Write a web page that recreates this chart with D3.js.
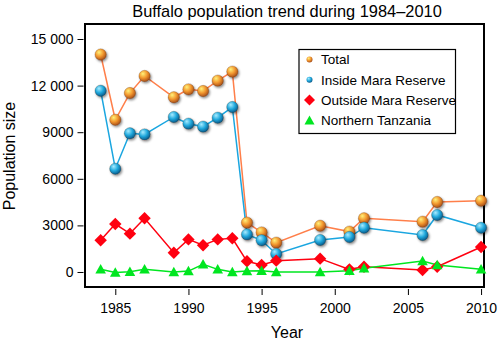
<!DOCTYPE html>
<html><head><meta charset="utf-8">
<script src="https://cdn.jsdelivr.net/npm/d3@7"></script>
<style>body{margin:0;background:#fff}svg{display:block;font-family:"Liberation Sans",Arial,Helvetica,sans-serif}</style>
</head><body><svg id="c" width="500" height="340"></svg>
<script>
const years = [1984,1985,1986,1987,1989,1990,1991,1992,1993,1994,1995,1996,1999,2001,2002,2006,2007,2010];
const total    = [14000,9800,11520,12620,11250,11760,11650,12320,12900,3180,2550,1890,2980,2600,3460,3240,4510,4590];
const inside   = [11670,6650,8930,8860,9980,9550,9360,9935,10620,2420,2040,1160,2060,2250,2850,2380,3670,2850];
const outside  = [2040,3090,2470,3460,1240,2100,1720,2100,2170,690,450,730,860,170,340,130,340,1610];
const northern = [170,-30,20,170,0,60,490,170,0,60,80,0,0,80,240,710,450,170];
const seriesNames = ["Total","Inside Mara Reserve","Outside Mara Reserve","Northern Tanzania"];
const xTicks = [1985,1990,1995,2000,2005,2010];
const yTicks = [0,3000,6000,9000,12000,15000];
const yTickLabels = ["0","3000","6000","9000","12 000","15 000"];

const svg = d3.select("#c");
const L=85, R=484, T=24, B=287;
const x = d3.scaleLinear().domain([1982.93,2010.2]).range([L,R]);
const y = d3.scaleLinear().domain([-966,15966]).range([B,T]);

const defs = svg.append("defs");
function sphereGrad(id, c0, c1, c2){
  const g = defs.append("radialGradient").attr("id",id).attr("cx","40%").attr("cy","35%").attr("r","65%").attr("fx","35%").attr("fy","30%");
  g.append("stop").attr("offset","0%").attr("stop-color",c0);
  g.append("stop").attr("offset","55%").attr("stop-color",c1);
  g.append("stop").attr("offset","100%").attr("stop-color",c2);
}
sphereGrad("gT","#fff27a","#f2962e","#a8501a");
sphereGrad("gI","#a8ecff","#20a8dc","#0a5a8a");
const f = defs.append("filter").attr("id","sh").attr("x","-50%").attr("y","-50%").attr("width","200%").attr("height","200%");
f.append("feDropShadow").attr("dx",1.2).attr("dy",1.5).attr("stdDeviation",0.9).attr("flood-color","#000").attr("flood-opacity",0.45);

// axes ticks
const yAxis = d3.axisLeft(y).tickValues(yTicks).tickFormat((d,i)=>yTickLabels[i]).tickSize(6).tickPadding(4);
const gy = svg.append("g").attr("transform",`translate(${L-1.5},0)`).call(yAxis);
gy.select(".domain").remove();
gy.selectAll("text").attr("font-size",14).attr("fill","#000").attr("font-family","Liberation Sans, Arial, sans-serif");
gy.selectAll("line").attr("stroke","#000").attr("stroke-width",1);

const xAxis = d3.axisBottom(x).tickValues(xTicks).tickFormat(d3.format("d")).tickSize(6).tickPadding(8);
const gx = svg.append("g").attr("transform",`translate(0,${B+2})`).call(xAxis);
gx.select(".domain").remove();
gx.selectAll("text").attr("font-size",14).attr("fill","#000").attr("font-family","Liberation Sans, Arial, sans-serif");
gx.selectAll("line").attr("stroke","#000").attr("stroke-width",1);

// frame
svg.append("rect").attr("x",L).attr("y",T).attr("width",R-L).attr("height",B-T).attr("fill","none").attr("stroke","#000").attr("stroke-width",2);

// titles
svg.append("text").attr("x",287).attr("y",17).attr("text-anchor","middle").attr("font-size",16.4).text("Buffalo population trend during 1984\u20132010");
svg.append("text").attr("x",287).attr("y",338).attr("text-anchor","middle").attr("font-size",16).text("Year");
svg.append("text").attr("transform","translate(15,156) rotate(-90)").attr("text-anchor","middle").attr("font-size",16).text("Population size");

const line = d3.line().x((d,i)=>x(years[i])).y(d=>y(d));
const cfg = [
  {v:total, c:"#ff7f4a", m:"sphere", g:"url(#gT)"},
  {v:inside, c:"#1aa6e0", m:"sphere", g:"url(#gI)"},
  {v:outside, c:"#ff0010", m:"diamond"},
  {v:northern, c:"#00e620", m:"tri"}
];
const gp = svg.append("g");
cfg.forEach(s=>{
  gp.append("path").attr("d",line(s.v)).attr("fill","none").attr("stroke",s.c).attr("stroke-width",1.5);
});
function drawMarker(g, s, cx, cy, small){
  if(s.m==="sphere"){
    g.append("circle").attr("cx",cx).attr("cy",cy).attr("r",small?3:5.7).attr("fill",s.g).attr("stroke",small?"none":"rgba(60,30,0,0.35)").attr("stroke-width",0.6).attr("filter",small?null:"url(#sh)");
  } else if(s.m==="diamond"){
    const r = small?5.5:6.2;
    g.append("path").attr("d",`M${cx},${cy-r}L${cx+r},${cy}L${cx},${cy+r}L${cx-r},${cy}Z`).attr("fill",s.c);
  } else {
    const r = small?5:5.3;
    g.append("path").attr("d",`M${cx},${cy-r}L${cx+r},${cy+r*0.8}L${cx-r},${cy+r*0.8}Z`).attr("fill",s.c);
  }
}
cfg.forEach(s=>{
  const gm = gp.append("g");
  s.v.forEach((v,i)=>drawMarker(gm, s, x(years[i]), y(v), false));
});

// legend
const lg = svg.append("g");
lg.append("rect").attr("x",299).attr("y",49.5).attr("width",156.5).attr("height",84).attr("fill","#fff").attr("stroke","#000").attr("stroke-width",1.2);
seriesNames.forEach((n,i)=>{
  const yy = 59.5 + i*20.3;
  drawMarker(lg, cfg[i], 309.5, yy, true);
  lg.append("text").attr("x",321).attr("y",yy+4.8).attr("font-size",13.5).text(n);
});
</script></body></html>
